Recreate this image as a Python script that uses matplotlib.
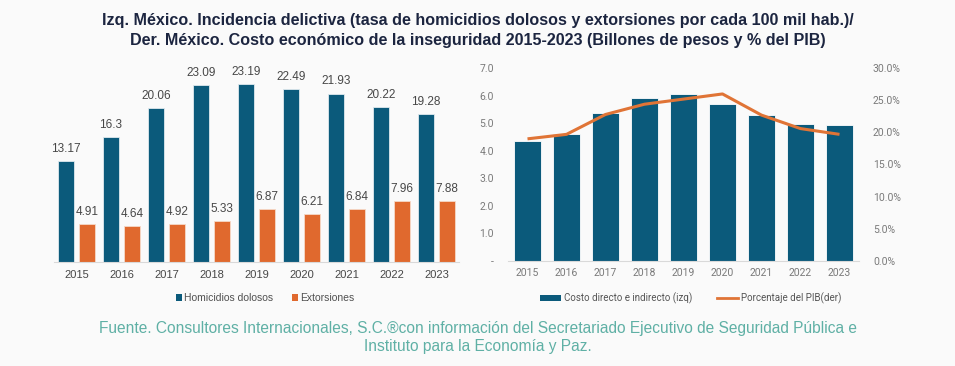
import matplotlib.pyplot as plt
from matplotlib.patches import Patch
from matplotlib.lines import Line2D
from matplotlib.ticker import FuncFormatter, MultipleLocator

years = ["2015", "2016", "2017", "2018", "2019", "2020", "2021", "2022", "2023"]
homicidios = [13.17, 16.3, 20.06, 23.09, 23.19, 22.49, 21.93, 20.22, 19.28]
extorsiones = [4.91, 4.64, 4.92, 5.33, 6.87, 6.21, 6.84, 7.96, 7.88]
costo = [4.35, 4.61, 5.36, 5.92, 6.06, 5.71, 5.29, 4.98, 4.93]
pct_pib = [19.0, 19.7, 22.8, 24.4, 25.2, 26.0, 22.7, 20.6, 19.7]

BLUE = "#0b5a7b"
ORANGE = "#e0692e"
BG = "#fafafa"

fig = plt.figure(figsize=(9.55, 3.66), dpi=100, facecolor=BG)

fig.text(0.5, 1 - 20 / 366, "Izq. México. Incidencia delictiva (tasa de homicidios dolosos y extorsiones por cada 100 mil hab.)/",
         ha="center", va="center", fontsize=11.6, fontweight="bold", color="#1c2540", family="Liberation Sans")
fig.text(0.5, 1 - 41 / 366, "Der. México. Costo económico de la inseguridad 2015-2023 (Billones de pesos y % del PIB)",
         ha="center", va="center", fontsize=11.6, fontweight="bold", color="#1c2540", family="Liberation Sans")

# left chart
ax1 = fig.add_axes([54 / 955, 1 - 262 / 366, 405 / 955, 202 / 366])
ax1.set_facecolor(BG)
x = list(range(len(years)))
w = 0.36
off = 0.235
b1 = ax1.bar([i - off for i in x], homicidios, w, color=BLUE, edgecolor="#dfe9ee", linewidth=0.6)
b2 = ax1.bar([i + off for i in x], extorsiones, w, color=ORANGE, edgecolor="#f5d9c8", linewidth=0.6)
for rect, v in zip(b1, homicidios):
    ax1.text(rect.get_x() + rect.get_width() / 2, v + 0.8, f"{v:g}", ha="center", va="bottom",
             fontsize=8.5, color="#474747", family="Liberation Sans")
for rect, v in zip(b2, extorsiones):
    ax1.text(rect.get_x() + rect.get_width() / 2, v + 0.8, f"{v:.2f}", ha="center", va="bottom",
             fontsize=8.5, color="#474747", family="Liberation Sans")
ax1.set_xlim(-0.5, 8.5)
ax1.set_ylim(0, 26.3)
ax1.set_xticks(x)
ax1.set_xticklabels(years, fontsize=8, color="#474747", family="Liberation Sans")
ax1.tick_params(axis="x", length=0, pad=6)
ax1.set_yticks([])
for s in ["top", "right", "left"]:
    ax1.spines[s].set_visible(False)
ax1.spines["bottom"].set_color("#d9d9d9")
leg1 = fig.legend(handles=[Patch(facecolor=BLUE, label="Homicidios dolosos"),
                           Patch(facecolor=ORANGE, label="Extorsiones")],
                  loc="center", bbox_to_anchor=(265 / 955, 1 - 298 / 366), ncol=2, frameon=False,
                  handlelength=0.6, handleheight=0.6, handletextpad=0.2, columnspacing=1.8,
                  prop={"family": "Liberation Sans", "size": 7.5})
for t in leg1.get_texts():
    t.set_color("#505050")

# right chart
ax2 = fig.add_axes([508 / 955, 1 - 260.7 / 366, 351 / 955, 192.4 / 366])
ax2.set_facecolor(BG)
ax2.bar(x, costo, 0.67, color=BLUE, edgecolor="white", linewidth=0.6)
ax2.set_xlim(-0.5, 8.5)
ax2.set_ylim(0, 7)
ax2.yaxis.set_major_locator(MultipleLocator(1))
ax2.yaxis.set_major_formatter(FuncFormatter(lambda v, p: "-" if v == 0 else f"{v:.1f}"))
ax2.set_xticks(x)
ax2.set_xticklabels(years)
ax2.tick_params(axis="both", length=0, labelsize=7.5, labelcolor="#7a7a7a")
ax2.tick_params(axis="y", pad=10)
ax2.tick_params(axis="x", pad=5)
for lab in ax2.get_xticklabels() + ax2.get_yticklabels():
    lab.set_family("Roboto")
for s in ["top", "right", "left"]:
    ax2.spines[s].set_visible(False)
ax2.spines["bottom"].set_color("#d9d9d9")

ax3 = ax2.twinx()
ax3.plot(x, [p / 100 for p in pct_pib], color="#e07436", linewidth=2.2, solid_capstyle="butt")
ax3.set_ylim(0, 0.30)
ax3.yaxis.set_major_locator(MultipleLocator(0.05))
ax3.yaxis.set_major_formatter(FuncFormatter(lambda v, p: f"{v * 100:.1f}%"))
ax3.tick_params(axis="y", length=0, labelsize=7.5, labelcolor="#7a7a7a", pad=10)
for lab in ax3.get_yticklabels():
    lab.set_family("Roboto")
for s in ax3.spines.values():
    s.set_visible(False)

leg2 = fig.legend(handles=[Patch(facecolor=BLUE, label="Costo directo e indirecto (izq)"),
                           Line2D([0], [0], color="#e07436", lw=2, label="Porcentaje del PIB(der)")],
                  loc="center", bbox_to_anchor=(691 / 955, 1 - 298 / 366), ncol=2, frameon=False,
                  handlelength=2.2, handleheight=0.5, handletextpad=0.3, columnspacing=2.5,
                  prop={"family": "Roboto", "size": 7})
for t in leg2.get_texts():
    t.set_color("#555555")

fig.text(0.5, 1 - 328 / 366,
         "Fuente. Consultores Internacionales, S.C.®con información del Secretariado Ejecutivo de Seguridad Pública e",
         ha="center", va="center", fontsize=11.2, color="#5fb0a5", family="Liberation Sans")
fig.text(0.5, 1 - 347 / 366, "Instituto para la Economía y Paz.",
         ha="center", va="center", fontsize=11.2, color="#5fb0a5", family="Liberation Sans")

fig.savefig("out.png", dpi=100, facecolor=BG)
